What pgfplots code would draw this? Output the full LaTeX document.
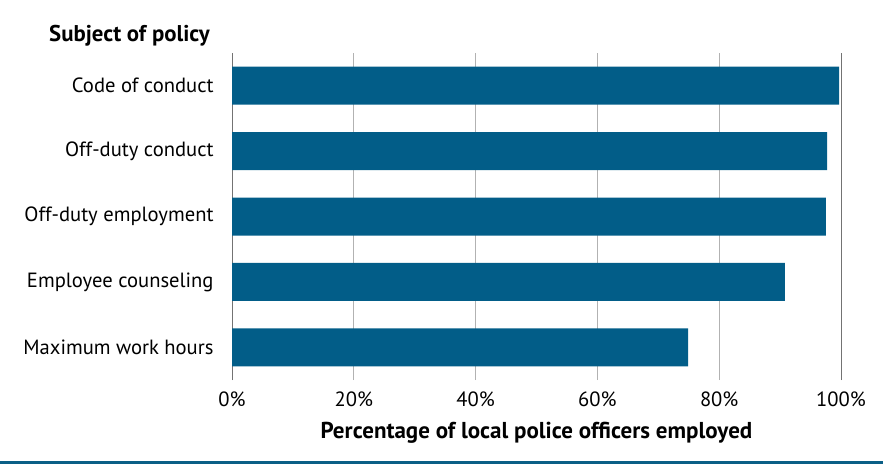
\documentclass[border=0pt]{standalone}
\usepackage{pgfplots}
\pgfplotsset{compat=1.18}
\usepackage{fontspec}
\setmainfont{PT Sans}
\definecolor{bar}{HTML}{025D88}
\definecolor{rule}{HTML}{0B5F86}
\begin{document}
\begin{tikzpicture}[x=1pt,y=1pt]
\useasboundingbox (0,0) rectangle (883,466);
\fontsize{21}{24}\selectfont
\begin{axis}[
  at={(232pt,86pt)}, anchor=south west,
  width=609pt, height=327pt, scale only axis,
  xmin=0, xmax=100, ymin=-0.5, ymax=4.5,
  xbar, bar width=38pt,
  axis line style={draw=none},
  xtick={0,20,40,60,80,100},
  xticklabel={\pgfmathprintnumber[assume math mode=true]{\tick}\%},
  ytick={0,1,2,3,4},
  yticklabels={Maximum work hours,Employee counseling,Off-duty employment,Off-duty conduct,Code of conduct},
  tick style={draw=none},
  ticklabel style={font=\fontsize{20.6}{24}\selectfont},
  yticklabel style={xshift=-7pt},
  xticklabel style={yshift=-5pt},
  xmajorgrids, grid style={draw=gray!60, line width=1pt},
  xlabel={\textbf{Percentage of local police officers employed}},
  xlabel style={font=\fontsize{23}{26}\selectfont, yshift=-1pt},
  clip=false,
]
\draw[gray!90!black, line width=1pt] (axis cs:0,-0.5) -- (axis cs:0,4.5);
\draw[gray!90!black, line width=1pt] (axis cs:100,-0.5) -- (axis cs:100,4.5);
\addplot[fill=bar, draw=none] coordinates {(74.9,0) (90.8,1) (97.5,2) (97.7,3) (99.7,4)};
\end{axis}
\node[anchor=east, font=\fontsize{22.8}{26}\selectfont\bfseries] at (217,430) {Subject of policy};
\draw[rule, line width=3pt] (0,4) -- (883,4);
\end{tikzpicture}
\end{document}
